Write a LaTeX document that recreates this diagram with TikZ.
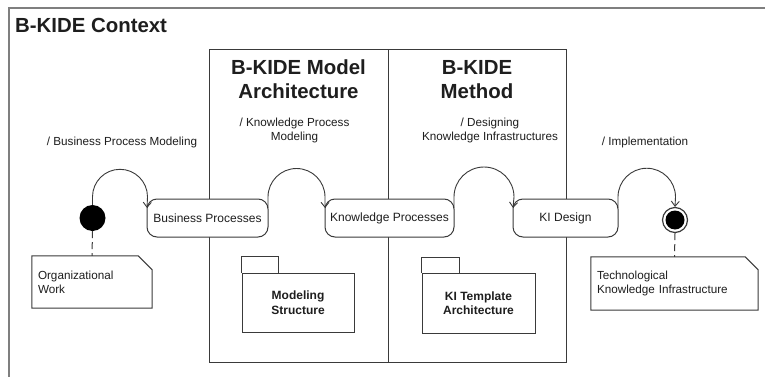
\documentclass[tikz,border=0pt]{standalone}
\usepackage{fontspec}
\setmainfont{Liberation Sans}
\usetikzlibrary{arrows.meta,calc}
\definecolor{linec}{HTML}{3A3A3A}
\definecolor{framec}{HTML}{7F7F7F}
\definecolor{textc}{HTML}{1E1E1E}
\begin{document}
\begin{tikzpicture}[x=1pt,y=1pt,
  every node/.style={text=textc},
  frame/.style={draw=framec, line width=2pt},
  ln/.style={draw=linec, line width=1pt},
  bigbox/.style={draw=linec, line width=1pt, rectangle, inner sep=0pt, anchor=north west},
  state/.style={draw=linec, line width=1pt, fill=white, rectangle, rounded corners=10pt,
    minimum height=38pt, inner sep=0pt, font=\fontsize{12}{14}\selectfont},
  ttl/.style={font=\bfseries\fontsize{20.4}{24}\selectfont, align=center, anchor=base, inner sep=0pt},
  lbl/.style={font=\fontsize{11.7}{14}\selectfont, align=center, anchor=base, inner sep=0pt},
  notebox/.style={rectangle, inner xsep=6pt, inner ysep=0pt, align=left,
    font=\fontsize{11.7}{14}\selectfont},
  pkg/.style={draw=linec, line width=1pt, rectangle, inner sep=0pt, align=center,
    font=\bfseries\fontsize{12}{14.5}\selectfont},
  flow/.style={draw=linec, line width=0.9pt, -{Straight Barb[length=5pt,width=8pt]}},
  dsh/.style={draw=linec, line width=1pt, dash pattern=on 7pt off 4pt}
]
\useasboundingbox (0,0) rectangle (765,376);
\fill[white] (0,0) rectangle (765,376);
% outer context frame (cut off at the right and bottom)
\draw[frame] (770,368) -- (8.5,368) -- (8.5,-5);
\node[ttl, anchor=base west] (ctx) at (15,344) {B-KIDE Context};

% the two big boxes
\node[bigbox, minimum width=179pt, minimum height=312.5pt] (mab) at (209,327) {};
\node[bigbox, minimum width=178pt, minimum height=312.5pt] (mtb) at (388,327) {};
\node[ttl] (mat) at (298.5,278) {B-KIDE Model\\Architecture};
\node[ttl] (mtt) at (477,278) {B-KIDE\\Method};

% transition labels
\node[lbl] (l1) at (122,230.5) {/ Business Process Modeling};
\node[lbl] (l2) at (294.5,236) {/ Knowledge Process\\Modeling};
\node[lbl] (l3) at (490,236) {/ Designing\\Knowledge Infrastructures};
\node[lbl] (l4) at (645,231) {/ Implementation};

% states
\node[state, minimum width=121pt] (bp) at (207.5,158) {Business Processes};
\node[state, minimum width=129pt] (kp) at (389.5,158) {Knowledge Processes};
\node[state, minimum width=105pt] (ki) at (565.5,158) {KI Design};

% initial and final nodes
\node[circle, fill=black, minimum size=26pt, inner sep=0pt] (init) at (92.5,158) {};
\node[circle, draw=linec, line width=1.2pt, fill=white, minimum size=25pt, inner sep=0pt,
  path picture={\fill[black] (path picture bounding box.center) circle (9.5pt);}] (fin) at (675,156) {};

% loops
\draw[flow] (init.north) -- ++(0,8) arc[start angle=180, end angle=0, radius=27.5] -- ($(bp.west)+(0.5,10)$);
\draw[flow] ($(bp.east)+(-0.5,10)$) -- ++(0,11) arc[start angle=180, end angle=0, radius=28.5] -- ($(kp.west)+(0.5,10)$);
\draw[flow] ($(kp.east)+(-0.5,10)$) -- ++(0,11) arc[start angle=180, end angle=0, radius=30] -- ($(ki.west)+(0.5,10)$);
\draw[flow] ($(ki.east)+(-0.5,10)$) -- ++(0,11) arc[start angle=180, end angle=0, radius=28.75] -- (fin.north);

% notes
\node[notebox, minimum width=120pt, minimum height=52pt, text width=108pt] (n1) at (92,94) {Organizational\\Work};
\node[notebox, minimum width=167pt, minimum height=53pt, text width=155pt] (n2) at (674.5,92.5) {Technological\\Knowledge Infrastructure};
\draw[ln] (n1.north west) -- ($(n1.north east)+(-14,0)$) -- ($(n1.north east)+(0,-14)$) -- (n1.south east) -- (n1.south west) -- cycle;
\draw[ln] (n2.north west) -- ($(n2.north east)+(-13,0)$) -- ($(n2.north east)+(0,-13)$) -- (n2.south east) -- (n2.south west) -- cycle;
\draw[dsh] (init.south) -- (n1.north);
\draw[dsh] (fin.south) -- (n2.north);

% packages
\node[pkg, minimum width=112pt, minimum height=59pt] (p1) at (298,73.5) {Modeling\\Structure};
\node[pkg, minimum width=113pt, minimum height=60pt] (p2) at (478.5,73) {KI Template\\Architecture};
\draw[ln] (p1.north west) -- ++(0,16) -- ++(37,0) -- ++(0,-16);
\draw[ln] (p2.north west) -- ++(0,15) -- ++(38,0) -- ++(0,-15);
\end{tikzpicture}
\end{document}
